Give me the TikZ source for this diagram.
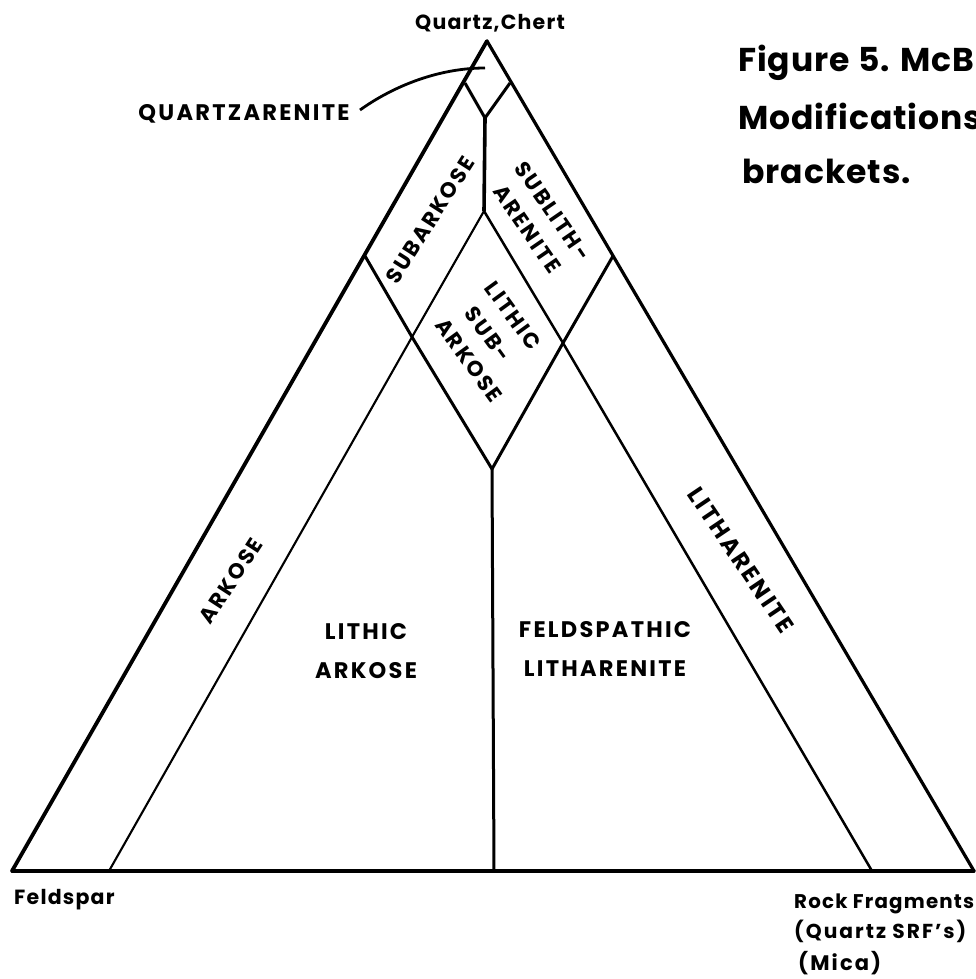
\documentclass[tikz,border=0pt]{standalone}
\usepackage{fontspec}
\setmainfont{Poppins}[LetterSpace=10]
\newfontfamily\tightf{Poppins}[LetterSpace=3]
\newfontfamily\midf{Poppins}[LetterSpace=6]
\begin{document}
\begin{tikzpicture}[x=1pt,y=-1pt,
 edgeA/.style={line width=3.8pt,black,line cap=round},
 edgeB/.style={line width=3.2pt,black,line cap=round},
 midA/.style={line width=3pt,black},
 thinA/.style={line width=2.1pt,black},
 lab/.style={font=\fontsize{22.5}{39}\selectfont\bfseries,inner sep=0,align=center,anchor=base},
 rot/.style={font=\fontsize{21.5}{31}\selectfont\bfseries,inner sep=0,align=center},
 corner/.style={font=\midf\fontsize{20.5}{20.5}\selectfont\bfseries,inner sep=0,anchor=base west},
 big/.style={font=\tightf\fontsize{33}{33}\selectfont\bfseries,inner sep=0,anchor=base west}]
\useasboundingbox (0,0) rectangle (976,979);
\fill[white] (0,0) rectangle (976,979);
\coordinate (apex) at (487,41);
\coordinate (fs) at (12,871);
\coordinate (rf) at (974,871);
\coordinate (ql) at (465,83);
\coordinate (qr) at (510,83);
\coordinate (qm) at (485,118);
\coordinate (mc) at (484,211);
\coordinate (sl) at (365,256);
\coordinate (sr) at (613,256);
\coordinate (il) at (412,337);
\coordinate (ir) at (563,343);
\coordinate (dm) at (492,469);
\coordinate (bl) at (109,871);
\coordinate (br) at (872,871);
\coordinate (bm) at (494,871);
\draw[edgeB] (fs) -- (rf);
\draw[edgeB] (apex) -- (rf);
\draw[edgeA] (apex) -- (fs);
\draw[midA] (ql) -- (qm) -- (qr);
\draw[line width=3.6pt] (qm) -- (mc);
\draw[midA] (sl) -- (il) -- (dm) -- (ir) -- (sr);
\draw[thinA] (bl) -- (il) -- (mc);
\draw[line width=2.5pt] (mc) -- (ir) -- (br);
\draw[midA] (dm) -- (bm);
\coordinate (qa) at (360,110);
\coordinate (qb) at (485,68);
\draw[line width=2.8pt] (qa) .. controls (395,85) and (440,68) .. (qb);
\node[corner,anchor=base] (t0) at (490,30) {Quartz,Chert};
\node[lab] (t1) at (244,121) {QUARTZARENITE};
\node[rot,rotate=57.5] (t2) at (430,220) {SUBARKOSE};
\node[rot,rotate=-55.5] (t3) at (540,220) {SUBLITH-\\ARENITE};
\node[rot,rotate=-54] (t4) at (488,334) {LITHIC\hspace{20pt}\\SUB-\\\hspace{20pt}ARKOSE};
\node[rot,rotate=57] (t5) at (231,581) {ARKOSE};
\node[rot,rotate=-56,font=\fontsize{23.5}{31}\selectfont\bfseries] (t6) at (741,560) {LITHARENITE};
\node[lab] (t7) at (366,678) {LITHIC\\ARKOSE};
\node[lab] (t8) at (605,676) {FELDSPATHIC\\LITHARENITE};
\node[corner] (t9) at (14,904) {Feldspar};
\node[corner,font=\midf\fontsize{19.8}{20}\selectfont\bfseries] (t10) at (794,908) {Rock Fragments};
\node[corner,font=\fontsize{20.2}{21}\selectfont\bfseries] (t11) at (794,938) {(Quartz SRF's)};
\node[corner,font=\fontsize{21}{21}\selectfont\bfseries] (t12) at (798,970) {(Mica)};
\node[big] (f1) at (738,72) {Figure 5. McB};
\node[big] (f2) at (738,129) {Modifications};
\node[big] (f3) at (742,183) {brackets.};
\end{tikzpicture}
\end{document}
